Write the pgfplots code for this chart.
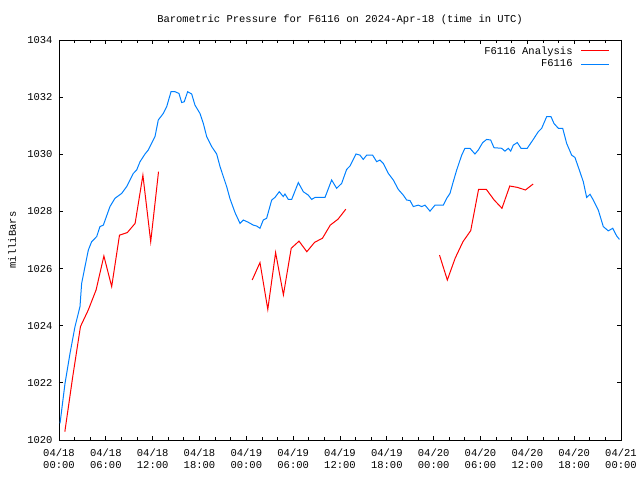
\documentclass[border=0pt]{standalone}
\usepackage{fontspec}
\setmainfont{Liberation Mono}
\usepackage{pgfplots}
\pgfplotsset{compat=1.18}
\definecolor{gpblue}{RGB}{0,128,255}
\definecolor{gpred}{RGB}{255,0,0}
\newcommand{\gpfont}{\fontsize{10.5}{12}\selectfont}
\begin{document}
\begin{tikzpicture}
\useasboundingbox (0,0) rectangle (640pt,480pt);
\begin{axis}[
  at={(59pt,40pt)}, anchor=south west,
  scale only axis, width=562pt, height=400pt,
  xmin=0, xmax=72, ymin=1020, ymax=1034,
  xtick={0,6,...,72},
  xticklabels={{04/18\\00:00},{04/18\\06:00},{04/18\\12:00},{04/18\\18:00},{04/19\\00:00},{04/19\\06:00},{04/19\\12:00},{04/19\\18:00},{04/20\\00:00},{04/20\\06:00},{04/20\\12:00},{04/20\\18:00},{04/21\\00:00}},
  minor x tick num=2,
  ytick={1020,1022,...,1034},
  yticklabel style={/pgf/number format/.cd, set thousands separator={}, /tikz/.cd},
  /pgf/number format/assume math mode=true,
  tick align=inside,
  major tick length=4pt, minor tick length=3pt,
  tick style={black, line width=0.8pt},
  axis line style={black, line width=0.8pt},
  tick label style={font=\gpfont},
  xticklabel style={align=center, yshift=-5pt},
  yticklabel style={xshift=-3pt},
  title={Barometric Pressure for F6116 on 2024-Apr-18 (time in UTC)},
  title style={font=\gpfont, at={(0.5,1)}, anchor=base, yshift=11pt},
  ylabel={milliBars},
  ylabel style={font=\gpfont, at={(axis description cs:-0.0836,0.5)}, anchor=center},
  legend style={at={(1,1)}, anchor=north east, xshift=-8pt, yshift=-3pt,
    draw=none, fill=none, font=\gpfont,
    nodes={inner sep=1.2pt}, row sep=2pt},
  legend cell align=right,
  legend plot pos=right,
  legend image code/.code={\path (0pt,0pt); \draw[#1] (7pt,0pt) -- (35pt,0pt);},
]
\addplot[gpred, line width=1pt] coordinates {
(0.75,1020.29) (1.75,1022.2) (2.75,1023.97) (3.75,1024.55) (4.75,1025.25)
(5.75,1026.44) (6.75,1025.37) (7.75,1027.17) (8.75,1027.26) (9.75,1027.58)
(10.75,1029.27) (11.75,1026.94) (12.75,1029.39)
};
\addlegendentry{F6116 Analysis}
\addplot[gpblue, line width=1pt] coordinates {
(0.13,1020.58) (0.77,1021.98) (1.41,1023.03) (2.05,1023.97) (2.69,1024.67)
(2.9,1025.48) (3.33,1026.07) (3.76,1026.65) (4.18,1026.94) (4.83,1027.12)
(5.25,1027.47) (5.68,1027.52) (6.53,1028.17) (7.17,1028.46) (8.03,1028.63)
(8.67,1028.87) (9.52,1029.33) (9.95,1029.45) (10.38,1029.74) (11.02,1030.01)
(11.44,1030.15) (12.30,1030.62) (12.72,1031.20) (13.36,1031.43) (13.8,1031.67)
(14.35,1032.19) (14.86,1032.19) (15.37,1032.13) (15.72,1031.81) (16.05,1031.84)
(16.48,1032.19) (17.0,1032.11) (17.42,1031.72) (18.06,1031.43) (18.49,1031.08)
(18.92,1030.62) (19.56,1030.27) (20.2,1030.01) (20.63,1029.57) (21.05,1029.22)
(21.48,1028.87) (21.9,1028.45) (22.55,1027.96) (23.19,1027.58) (23.61,1027.70)
(24.25,1027.62) (24.9,1027.52) (25.32,1027.49) (25.75,1027.41) (26.17,1027.70)
(26.6,1027.76) (27.25,1028.40) (27.67,1028.49) (28.22,1028.69) (28.73,1028.52)
(28.95,1028.61) (29.38,1028.42) (29.81,1028.42) (30.66,1029.01) (31.3,1028.69)
(31.94,1028.57) (32.37,1028.42) (32.8,1028.49) (34.08,1028.49) (34.93,1029.10)
(35.57,1028.81) (36.21,1028.98) (36.85,1029.47) (37.28,1029.59) (38.05,1030.01)
(38.56,1029.97) (38.98,1029.82) (39.42,1029.97) (40.18,1029.97) (40.7,1029.74)
(41.12,1029.80) (41.55,1029.68) (42.19,1029.33) (42.83,1029.10) (43.47,1028.77)
(44.11,1028.57) (44.54,1028.40) (44.97,1028.38) (45.39,1028.17) (46.03,1028.22)
(46.47,1028.17) (46.89,1028.22) (47.53,1028.01) (48.17,1028.22) (49.23,1028.22)
(49.67,1028.46) (50.09,1028.63) (50.51,1029.04) (50.95,1029.45) (51.59,1029.97)
(52.01,1030.21) (52.65,1030.21) (53.29,1030.01) (53.72,1030.15) (54.28,1030.41)
(54.79,1030.52) (55.3,1030.50) (55.73,1030.23) (56.71,1030.21) (57.13,1030.11)
(57.56,1030.21) (57.87,1030.11) (58.2,1030.32) (58.71,1030.41) (59.19,1030.21)
(59.99,1030.21) (60.76,1030.52) (61.4,1030.79) (61.84,1030.91) (62.48,1031.32)
(63.03,1031.32) (63.41,1031.08) (63.97,1030.91) (64.53,1030.91) (65.04,1030.38)
(65.68,1029.97) (66.1,1029.89) (66.66,1029.45) (67.17,1029.04) (67.6,1028.49)
(68.03,1028.60) (68.45,1028.40) (69.09,1028.05) (69.73,1027.47) (70.37,1027.32)
(70.94,1027.41) (71.45,1027.14) (71.8,1027.02)
};
\addlegendentry{F6116}
\addplot[gpred, line width=1pt, forget plot] coordinates {
(24.75,1025.60) (25.75,1026.21) (26.75,1024.57) (27.75,1026.56) (28.75,1025.08)
(29.75,1026.71) (30.75,1026.96) (31.75,1026.59) (32.75,1026.92) (33.75,1027.06)
(34.75,1027.52) (35.75,1027.73) (36.75,1028.08)
};
\addplot[gpred, line width=1pt, forget plot] coordinates {
(48.75,1026.47) (49.75,1025.60) (50.75,1026.36) (51.75,1026.94) (52.75,1027.33)
(53.75,1028.77) (54.75,1028.77) (55.75,1028.40) (56.75,1028.11) (57.75,1028.89)
(58.75,1028.84) (59.75,1028.75) (60.75,1028.96)
};
\end{axis}
\end{tikzpicture}
\end{document}
